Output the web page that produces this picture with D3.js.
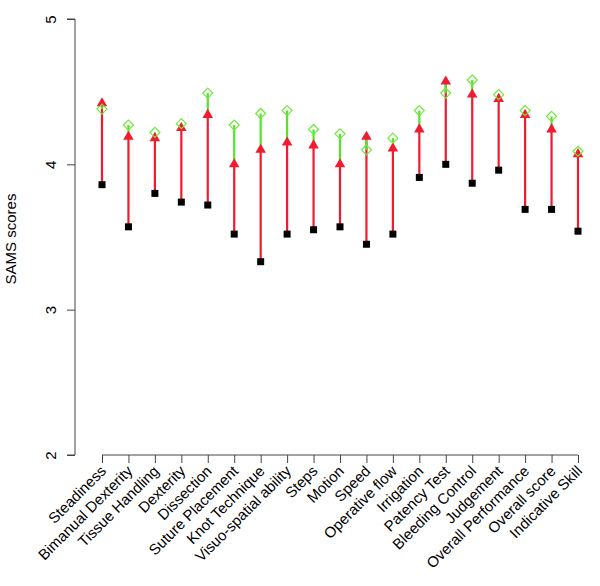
<!DOCTYPE html>
<html><head><meta charset="utf-8">
<script src="https://cdn.jsdelivr.net/npm/d3@7"></script>
<style>body{margin:0;background:#fff}svg{display:block}text{font-family:"Liberation Sans",Arial,sans-serif}</style>
</head><body>
<script>
const categories = ["Steadiness","Bimanual Dexterity","Tissue Handling","Dexterity","Dissection","Suture Placement","Knot Technique","Visuo-spatial ability","Steps","Motion","Speed","Operative flow","Irrigation","Patency Test","Bleeding Control","Judgement","Overall Performance","Overall score","Indicative Skill"];
const startScores = [3.86,3.57,3.80,3.74,3.72,3.52,3.33,3.52,3.55,3.57,3.45,3.52,3.91,4.00,3.87,3.96,3.69,3.69,3.54];
const midScores   = [4.42,4.19,4.18,4.25,4.34,4.00,4.10,4.15,4.13,4.00,4.19,4.11,4.24,4.57,4.48,4.45,4.34,4.24,4.07];
const endScores   = [4.38,4.27,4.22,4.28,4.49,4.27,4.35,4.37,4.24,4.21,4.10,4.18,4.37,4.49,4.58,4.48,4.37,4.33,4.09];
const yTicks = [2,3,4,5];
const yLabel = "SAMS scores";

const W = 600, H = 586;
const svg = d3.select("body").append("svg").attr("width", W).attr("height", H);
const x = d3.scalePoint().domain(categories).range([102, 578]);
const y = d3.scaleLinear().domain([2, 5]).range([455, 19]);
const axisCol = "#444";

// Y axis
const ya = svg.append("g").attr("transform", "translate(75,0)")
  .call(d3.axisLeft(y).tickValues(yTicks).tickSize(8).tickFormat(d3.format("d")));
ya.select(".domain").attr("stroke", axisCol).attr("d", `M-8,${y(5)}H0V${y(2)}H-8`);
ya.selectAll(".tick line").attr("stroke", axisCol);
ya.selectAll(".tick text").attr("font-size", 15).attr("fill", "#000")
  .attr("x", null).attr("dy", "0.35em")
  .attr("text-anchor", "middle")
  .attr("transform", "translate(-24,0) rotate(-90)");

// X axis
const xa = svg.append("g").attr("transform", `translate(0,${y(2)})`)
  .call(d3.axisBottom(x).tickSize(8).tickFormat(""));
xa.select(".domain").attr("stroke", axisCol).attr("d", `M${x(categories[0])},0H${x(categories[categories.length-1])}`);
xa.selectAll(".tick line").attr("stroke", axisCol);

// rotated category labels
svg.append("g").selectAll("text").data(categories).join("text")
  .attr("font-size", 15).attr("fill", "#000").attr("text-anchor", "end")
  .attr("transform", d => `translate(${x(d) + 5},${y(2) + 17}) rotate(-45)`)
  .text(d => d);

// Y label
svg.append("text").attr("font-size", 15).attr("text-anchor", "middle")
  .attr("transform", `translate(16,${(y(2)+y(5))/2 + 2}) rotate(-90)`).text(yLabel);

const rows = categories.map((c, i) => ({c, s: startScores[i], m: midScores[i], e: endScores[i]}));
const g = svg.append("g");
// red lines start -> mid
g.selectAll("line.r").data(rows).join("line").attr("class", "r")
  .attr("x1", d => x(d.c)).attr("x2", d => x(d.c))
  .attr("y1", d => y(d.s)).attr("y2", d => y(d.m))
  .attr("stroke", "#f21a2e").attr("stroke-width", 2.2);
// green lines mid -> end
g.selectAll("line.gr").data(rows).join("line").attr("class", "gr")
  .attr("x1", d => x(d.c)).attr("x2", d => x(d.c))
  .attr("y1", d => y(d.m)).attr("y2", d => y(d.e))
  .attr("stroke", "#55e22c").attr("stroke-width", 2.2);
// squares
g.selectAll("rect.sq").data(rows).join("rect").attr("class", "sq")
  .attr("x", d => x(d.c) - 3.5).attr("y", d => y(d.s) - 3.5)
  .attr("width", 7).attr("height", 7).attr("fill", "#000");
// triangles
const tri = d3.symbol().type(d3.symbolTriangle).size(48);
g.selectAll("path.tri").data(rows).join("path").attr("class", "tri")
  .attr("d", tri).attr("transform", d => `translate(${x(d.c)},${y(d.m)})`)
  .attr("fill", "#f21a2e");
// diamonds (open)
g.selectAll("path.dia").data(rows).join("path").attr("class", "dia")
  .attr("d", d => { const cx = x(d.c), cy = y(d.e), r = 5; return `M${cx},${cy-r}L${cx+r},${cy}L${cx},${cy+r}L${cx-r},${cy}Z`; })
  .attr("fill", "none").attr("stroke", "#6ee83a").attr("stroke-width", 1.2);
</script>
</body></html>
